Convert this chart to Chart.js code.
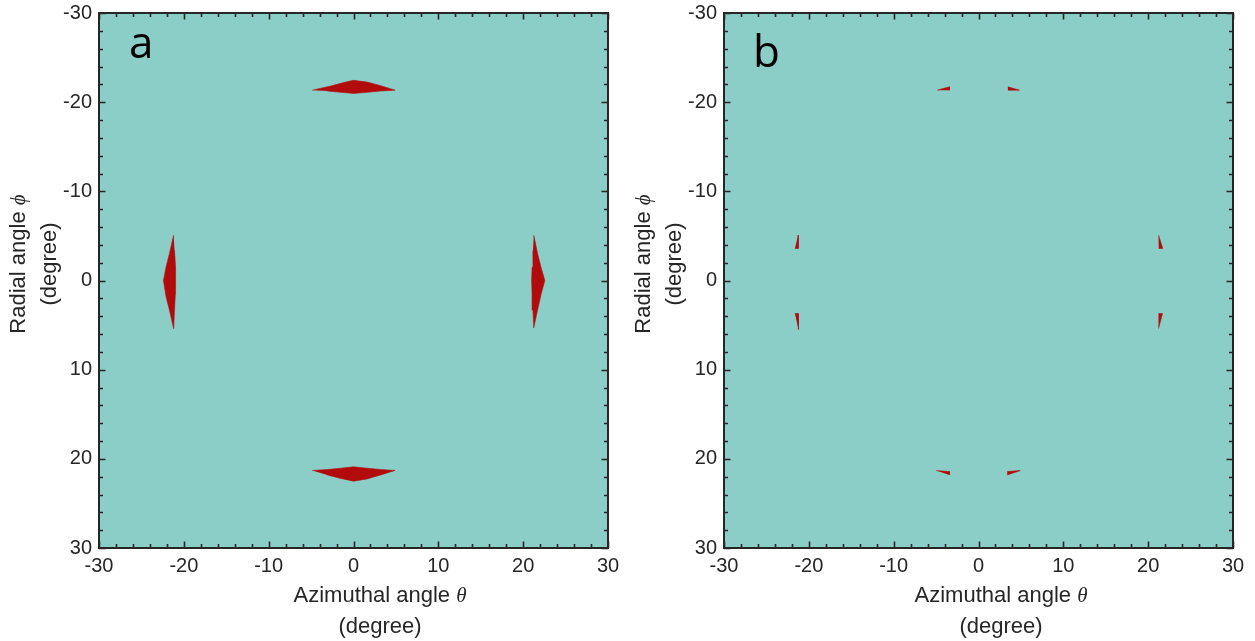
<!DOCTYPE html>
<html><head><meta charset="utf-8">
<script src="https://cdn.jsdelivr.net/npm/chart.js@4.4.1/dist/chart.umd.min.js"></script>
<style>
html,body{margin:0;padding:0;background:#fff;}
#wrap{position:relative;width:1255px;height:641px;overflow:hidden;background:#fff;}
.p{position:absolute;top:0;}
</style></head><body>
<div id="wrap">
<div class="p" style="left:0;"><canvas id="ca" width="625" height="641"></canvas></div>
<div class="p" style="left:625px;"><canvas id="cb" width="630" height="641"></canvas></div>
</div>
<script>
// ---- axes / ticks ----
const tickValues = [-30, -20, -10, 0, 10, 20, 30];
const minorTickValues = [-28,-26,-24,-22,-18,-16,-14,-12,-8,-6,-4,-2,2,4,6,8,12,14,16,18,22,24,26,28];
const xTitleLines = ['Azimuthal angle ', '(degree)'];
const xTitleSymbol = 'θ';
const yTitleLines = ['Radial angle ', '(degree)'];
const yTitleSymbol = 'ϕ';
const panelLetters = ['a', 'b'];

// ---- panel a: red lens regions [theta, phi] ----
const aTopLens = [[-4.85,-21.35],[-2.7,-21.8],[-1.15,-22.2],[0,-22.45],[1.6,-22.25],[3.2,-21.85],[4.9,-21.35],[3.2,-21.25],[1.6,-21.1],[0,-20.98],[-1.5,-21.1],[-3.1,-21.25]];
const aBottomLens = [[-4.85,21.3],[-3.1,21.2],[-1.5,21.05],[0,20.9],[1.6,21.05],[3.2,21.2],[4.9,21.3],[3.2,21.8],[1.6,22.25],[0,22.5],[-1.5,22.2],[-3.1,21.8]];
const aLeftLens = [[-21.2,-5.1],[-21.7,-3.0],[-22.1,-1.5],[-22.4,0],[-22.1,1.8],[-21.7,3.3],[-21.2,5.4],[-21.1,3.3],[-21.0,1.5],[-20.95,0],[-21.0,-1.5],[-21.1,-3.4]];
const aRightLens = [[21.25,-5.1],[21.7,-3.0],[22.1,-1.5],[22.55,0],[22.1,1.6],[21.7,3.3],[21.25,5.3],[21.15,3.3],[21.05,1.5],[21.0,0],[21.05,-1.5],[21.15,-3.3]];

// ---- panel b: red fragments [theta, phi] ----
const bTopLeft = [[-4.88,-21.35],[-3.42,-21.72],[-3.42,-21.35]];
const bTopRight = [[3.46,-21.72],[4.84,-21.35],[3.46,-21.35]];
const bBottomLeft = [[-4.99,21.32],[-3.42,21.43],[-3.42,21.8]];
const bBottomRight = [[3.39,21.43],[4.92,21.32],[3.39,21.8]];
const bLeftUpper = [[-21.25,-5.09],[-21.25,-3.6],[-21.64,-3.6]];
const bLeftLower = [[-21.64,3.71],[-21.25,3.71],[-21.22,5.5]];
const bRightUpper = [[21.22,-5.09],[21.72,-3.6],[21.25,-3.6]];
const bRightLower = [[21.22,3.71],[21.69,3.71],[21.22,5.39]];

const TEAL = 'rgb(138,206,199)';
const RED = 'rgb(178,11,11)';
const INK = '#262626';
const SANS = '"Liberation Sans", Arial, sans-serif';
const TITLE_PX = 22;

function toPts(arr){ return arr.map(p => ({x:p[0], y:p[1]})); }
function region(arr){
  return { data: toPts(arr), backgroundColor: RED, borderColor: RED, borderWidth: 0.6,
           pointRadius: 0, fill: 'shape', tension: 0 };
}

function drawTitleLine(ctx, main, sym, cx, cy){
  ctx.font = TITLE_PX + 'px ' + SANS;
  const w1 = ctx.measureText(main).width;
  const symFont = 'italic ' + (TITLE_PX - 1) + 'px "Liberation Serif", "DejaVu Serif", serif';
  let w2 = 0;
  if (sym){ ctx.font = symFont; w2 = ctx.measureText(sym).width; }
  const start = cx - (w1 + w2) / 2;
  ctx.textAlign = 'left'; ctx.textBaseline = 'middle'; ctx.fillStyle = INK;
  ctx.font = TITLE_PX + 'px ' + SANS; ctx.fillText(main, start, cy);
  if (sym){ ctx.font = symFont; ctx.fillText(sym, start + w1, cy); }
}

function panelPlugin(letter, letterX, letterY, xTitleOffset){
  return {
    id: 'panel' + letter,
    beforeDatasetsDraw(chart){
      const {ctx, chartArea:a} = chart;
      ctx.save(); ctx.fillStyle = TEAL;
      ctx.fillRect(a.left, a.top, a.right - a.left, a.bottom - a.top);
      ctx.restore();
    },
    afterDatasetsDraw(chart){
      const {ctx, chartArea:a, scales} = chart;
      const xs = scales.x, ys = scales.y;
      ctx.save();
      ctx.strokeStyle = INK;
      ctx.lineWidth = 1.6;
      const drawTick = (v, len) => {
        const px = Math.round(xs.getPixelForValue(v)) + 0.5;
        const py = Math.round(ys.getPixelForValue(v)) + 0.5;
        ctx.beginPath();
        ctx.moveTo(px, a.bottom); ctx.lineTo(px, a.bottom - len);
        ctx.moveTo(px, a.top); ctx.lineTo(px, a.top + len);
        ctx.moveTo(a.left, py); ctx.lineTo(a.left + len, py);
        ctx.moveTo(a.right, py); ctx.lineTo(a.right - len, py);
        ctx.stroke();
      };
      minorTickValues.forEach(v => drawTick(v, 4));
      tickValues.forEach(v => drawTick(v, 6.5));
      ctx.lineWidth = 2;
      ctx.strokeRect(a.left, a.top, a.right - a.left, a.bottom - a.top);
      ctx.restore();
    },
    afterDraw(chart){
      const {ctx, chartArea:a} = chart;
      ctx.save();
      ctx.fillStyle = '#000';
      ctx.font = '44px "Open Sans", sans-serif';
      ctx.textAlign = 'left'; ctx.textBaseline = 'alphabetic';
      ctx.fillText(letter, letterX, letterY);
      const cx = (a.left + a.right) / 2 + xTitleOffset;
      drawTitleLine(ctx, xTitleLines[0], xTitleSymbol, cx, 596);
      drawTitleLine(ctx, xTitleLines[1], null, cx, 627);
      ctx.save();
      ctx.translate(19, 264); ctx.rotate(-Math.PI / 2);
      drawTitleLine(ctx, yTitleLines[0], yTitleSymbol, 0, 0);
      ctx.restore();
      ctx.save();
      ctx.translate(50, 264); ctx.rotate(-Math.PI / 2);
      drawTitleLine(ctx, yTitleLines[1], null, 0, 0);
      ctx.restore();
      ctx.restore();
    }
  };
}

function zeroPad(s){ s.paddingTop = 0; s.paddingBottom = 0; s.paddingLeft = 0; s.paddingRight = 0; }

function makeChart(id, datasets, rightPad, plugin){
  return new Chart(document.getElementById(id), {
    type: 'line',
    data: { datasets },
    options: {
      responsive: false, animation: false,
      layout: { padding: { left: 0, right: rightPad, top: 13, bottom: 0 } },
      plugins: { legend: { display: false }, tooltip: { enabled: false } },
      scales: {
        x: {
          type: 'linear', min: -30, max: 30,
          grid: { display: false, drawTicks: false }, border: { display: false },
          afterFit: s => { s.height = 93; zeroPad(s); },
          afterBuildTicks: s => { s.ticks = tickValues.map(v => ({value: v})); },
          ticks: { color: INK, font: { family: SANS, size: 20 }, padding: 6, maxRotation: 0 }
        },
        y: {
          type: 'linear', min: -30, max: 30, reverse: true,
          grid: { display: false, drawTicks: false }, border: { display: false },
          afterFit: s => { s.width = 99; zeroPad(s); },
          afterBuildTicks: s => { s.ticks = tickValues.map(v => ({value: v})); },
          ticks: { color: INK, font: { family: SANS, size: 20 }, padding: 7 }
        }
      }
    },
    plugins: [plugin]
  });
}

makeChart('ca', [aTopLens, aBottomLens, aLeftLens, aRightLens].map(region), 17,
  panelPlugin(panelLetters[0], 129, 58, 26.5));
makeChart('cb', [bTopLeft, bTopRight, bBottomLeft, bBottomRight, bLeftUpper, bLeftLower, bRightUpper, bRightLower].map(region), 22,
  panelPlugin(panelLetters[1], 128, 67, 22.5));
</script>
</body></html>
